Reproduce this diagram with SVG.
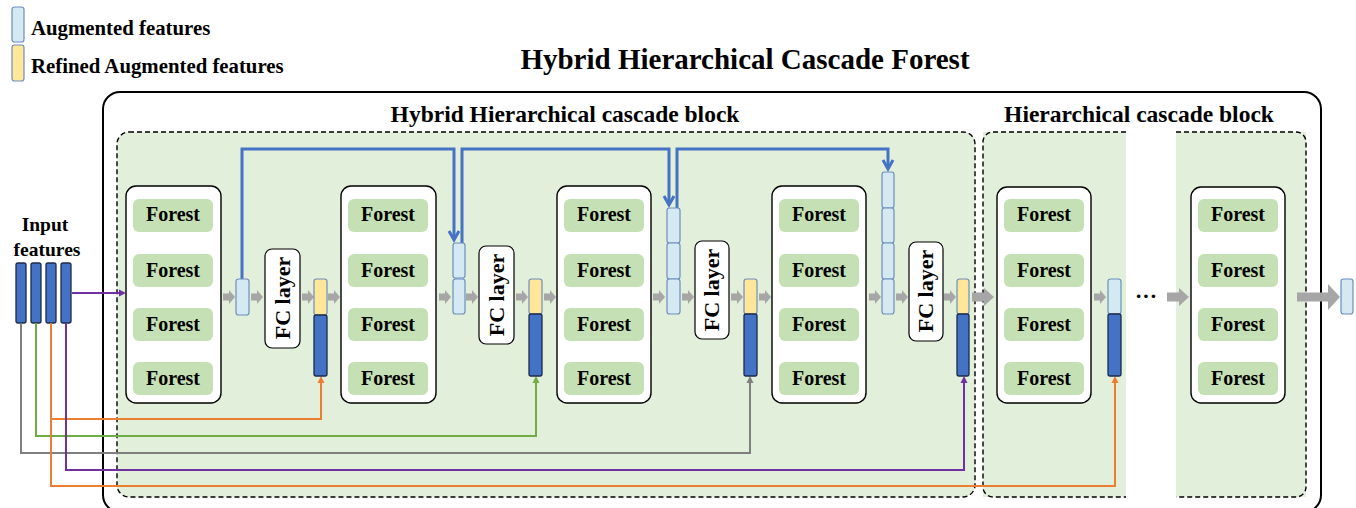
<svg xmlns="http://www.w3.org/2000/svg" width="1356" height="508" viewBox="0 0 1356 508">
<style>
text{font-family:"Liberation Serif","Times New Roman",serif;font-weight:bold;fill:#000}
.grp{fill:#fff;stroke:#000;stroke-width:1.4}
.btn{fill:#c5e0b4}
.ft{font-size:20px;text-anchor:middle}
.aug{fill:#d5e9f2;stroke:#6c8ebf;stroke-width:1.2}
.ref{fill:#ffe699;stroke:#6c8ebf;stroke-width:1.2}
.inp{fill:#4472c4;stroke:#1c2a4a;stroke-width:1.3}
.fc{fill:#fff;stroke:#000;stroke-width:1.2}
.fct{font-size:22px;text-anchor:middle}
.ga{fill:#a6a6a6}
.bl{fill:none;stroke:#4472c4;stroke-width:3}
.cn{fill:none;stroke-width:2}
</style>
<defs>
<path id="sa" d="M0,-3.5H6V-7L12,0L6,7V3.5H0Z"/>
<path id="la" d="M0,-4.5H12V-9L22,0L12,9V4.5H0Z"/>
<g id="forests">
<rect class="btn" x="7" y="13" width="80" height="33" rx="6"/>
<rect class="btn" x="7" y="68" width="80" height="33" rx="6"/>
<rect class="btn" x="7" y="122" width="80" height="33" rx="6"/>
<rect class="btn" x="7" y="176" width="80" height="33" rx="6"/>
<text class="ft" x="47" y="35">Forest</text>
<text class="ft" x="47" y="91">Forest</text>
<text class="ft" x="47" y="145">Forest</text>
<text class="ft" x="47" y="199">Forest</text>
</g>
</defs>
<rect width="1356" height="508" fill="#fff"/>

<g id="legend">
<rect class="aug" x="12" y="7" width="12" height="35" rx="2.5"/>
<rect class="ref" x="12" y="45" width="12" height="36" rx="2.5"/>
<text x="31" y="35" font-size="20.8px">Augmented features</text>
<text x="31" y="73" font-size="20.8px">Refined Augmented features</text>
</g>

<text x="745" y="69" font-size="29px" text-anchor="middle">Hybrid Hierarchical Cascade Forest</text>

<g id="outer">
<rect x="103" y="92" width="1218" height="420" rx="17" fill="none" stroke="#000" stroke-width="2"/>
</g>

<g id="hybrid-block">
<rect x="117" y="132" width="858" height="365" rx="12" fill="#e2efda" stroke="#000" stroke-width="1.4" stroke-dasharray="5,3"/>
<text x="565" y="122" font-size="23.5px" text-anchor="middle">Hybrid Hierarchical cascade block</text>
</g>

<g id="hier-block">
<rect x="983" y="132" width="143" height="365" fill="#e2efda"/>
<rect x="1176" y="132" width="130" height="365" fill="#e2efda"/>
<path d="M1126,132H993A10,10 0 0 0 983,142V487A10,10 0 0 0 993,497H1126" fill="none" stroke="#000" stroke-width="1.4" stroke-dasharray="5,3"/>
<path d="M1176,132H1296A10,10 0 0 1 1306,142V487A10,10 0 0 1 1296,497H1176" fill="none" stroke="#000" stroke-width="1.4" stroke-dasharray="5,3"/>
<text x="1139" y="122" font-size="23.5px" text-anchor="middle">Hierarchical cascade block</text>
</g>

<g id="input">
<text x="45" y="231" font-size="19.5px" text-anchor="middle">Input</text>
<text x="47" y="256" font-size="19.5px" text-anchor="middle">features</text>
<rect class="inp" x="16" y="263" width="10" height="60" rx="2"/>
<rect class="inp" x="31" y="263" width="10" height="60" rx="2"/>
<rect class="inp" x="46" y="263" width="10" height="60" rx="2"/>
<rect class="inp" x="61" y="263" width="10" height="60" rx="2"/>
</g>

<g id="connectors">
<path class="cn" stroke="#ed7d31" d="M51,323V419H321V382"/>
<path class="cn" stroke="#70ad47" d="M36,323V436H536V382"/>
<path class="cn" stroke="#7f7f7f" d="M21,323V453H750V382"/>
<path class="cn" stroke="#7030a0" d="M66,323V470H964V382"/>
<path class="cn" stroke="#ed7d31" d="M51,419V486H1115V382"/>
<path fill="#ed7d31" d="M317.5,383L321,376L324.5,383Z"/>
<path fill="#70ad47" d="M532.5,383L536,376L539.5,383Z"/>
<path fill="#7f7f7f" d="M746.5,383L750,376L753.5,383Z"/>
<path fill="#7030a0" d="M960.5,383L964,376L967.5,383Z"/>
<path fill="#ed7d31" d="M1111.5,383L1115,376L1118.5,383Z"/>
<path class="cn" stroke="#7030a0" d="M72,293H120"/>
<path fill="#7030a0" d="M119,289.5L126,293L119,296.5Z"/>
<path class="bl" d="M242,279V149H454V238"/>
<path class="bl" d="M462,243V149H669V203"/>
<path class="bl" d="M677,208V149H888V167"/>
<path class="bl" d="M449,231L454,240L459,231"/>
<path class="bl" d="M664,196L669,205L674,196"/>
<path class="bl" d="M883,160L888,169L893,160"/>
<g class="ga">
<use href="#sa" x="223" y="297"/><use href="#sa" x="251" y="297"/><use href="#sa" x="302" y="297"/><use href="#sa" x="328" y="297"/>
<use href="#sa" x="439" y="297"/><use href="#sa" x="466" y="297"/><use href="#sa" x="516" y="297"/><use href="#sa" x="544" y="297"/>
<use href="#sa" x="653" y="297"/><use href="#sa" x="682" y="297"/><use href="#sa" x="731" y="297"/><use href="#sa" x="759" y="297"/>
<use href="#sa" x="869" y="297"/><use href="#sa" x="896" y="297"/><use href="#sa" x="944" y="297"/>
<use href="#la" x="972" y="297"/>
<use href="#sa" x="1094" y="297"/>
<use href="#la" x="1167" y="297"/>
<path d="M1297,292.5H1328V284L1340,297L1328,310V301.5H1297Z"/>
</g>
<text x="1146" y="303" font-size="22px" text-anchor="middle">···</text>
</g>

<g id="group1">
<rect class="grp" x="126" y="186" width="95" height="217" rx="10"/>
<use href="#forests" x="126" y="186"/>
</g>
<g id="group2">
<rect class="grp" x="341" y="186" width="95" height="217" rx="10"/>
<use href="#forests" x="341" y="186"/>
</g>
<g id="group3">
<rect class="grp" x="557" y="186" width="94" height="217" rx="10"/>
<use href="#forests" x="557" y="186"/>
</g>
<g id="group4">
<rect class="grp" x="772" y="186" width="94" height="217" rx="10"/>
<use href="#forests" x="772" y="186"/>
</g>
<g id="group5">
<rect class="grp" x="997" y="187" width="94" height="216" rx="10"/>
<use href="#forests" x="997" y="186"/>
</g>
<g id="group6">
<rect class="grp" x="1191" y="187" width="94" height="216" rx="10"/>
<use href="#forests" x="1191" y="186"/>
</g>

<g id="aug1"><rect class="aug" x="236" y="279" width="13" height="36" rx="2.5"/></g>
<g id="aug2">
<rect class="aug" x="453" y="243" width="12" height="35" rx="2.5"/>
<rect class="aug" x="453" y="279" width="12" height="35" rx="2.5"/>
</g>
<g id="aug3">
<rect class="aug" x="667" y="208" width="13" height="35" rx="2.5"/>
<rect class="aug" x="667" y="243" width="13" height="36" rx="2.5"/>
<rect class="aug" x="667" y="279" width="13" height="35" rx="2.5"/>
</g>
<g id="aug4">
<rect class="aug" x="882" y="172" width="12" height="36" rx="2.5"/>
<rect class="aug" x="882" y="208" width="12" height="35" rx="2.5"/>
<rect class="aug" x="882" y="243" width="12" height="36" rx="2.5"/>
<rect class="aug" x="882" y="279" width="12" height="35" rx="2.5"/>
</g>

<g id="fc1"><rect class="fc" x="265" y="249" width="35" height="99" rx="7"/><text class="fct" transform="translate(290,298) rotate(-90)">FC layer</text></g>
<g id="fc2"><rect class="fc" x="479" y="246" width="35" height="98" rx="7"/><text class="fct" transform="translate(504,295) rotate(-90)">FC layer</text></g>
<g id="fc3"><rect class="fc" x="695" y="241" width="34" height="98" rx="7"/><text class="fct" transform="translate(719,290) rotate(-90)">FC layer</text></g>
<g id="fc4"><rect class="fc" x="909" y="242" width="34" height="99" rx="7"/><text class="fct" transform="translate(933,291) rotate(-90)">FC layer</text></g>

<g id="out1"><rect class="ref" x="314" y="279" width="13" height="36" rx="2.5"/><rect class="inp" x="314" y="315" width="13" height="61" rx="2"/></g>
<g id="out2"><rect class="ref" x="529" y="279" width="13" height="35" rx="2.5"/><rect class="inp" x="529" y="314" width="13" height="62" rx="2"/></g>
<g id="out3"><rect class="ref" x="744" y="279" width="13" height="35" rx="2.5"/><rect class="inp" x="744" y="314" width="13" height="62" rx="2"/></g>
<g id="out4"><rect class="ref" x="957" y="279" width="12" height="35" rx="2.5"/><rect class="inp" x="957" y="314" width="12" height="62" rx="2"/></g>
<g id="out5"><rect class="aug" x="1108" y="279" width="13" height="35" rx="2.5"/><rect class="inp" x="1108" y="314" width="13" height="62" rx="2"/></g>
<g id="final"><rect class="aug" x="1341" y="279" width="12" height="35" rx="2.5"/></g>
</svg>
